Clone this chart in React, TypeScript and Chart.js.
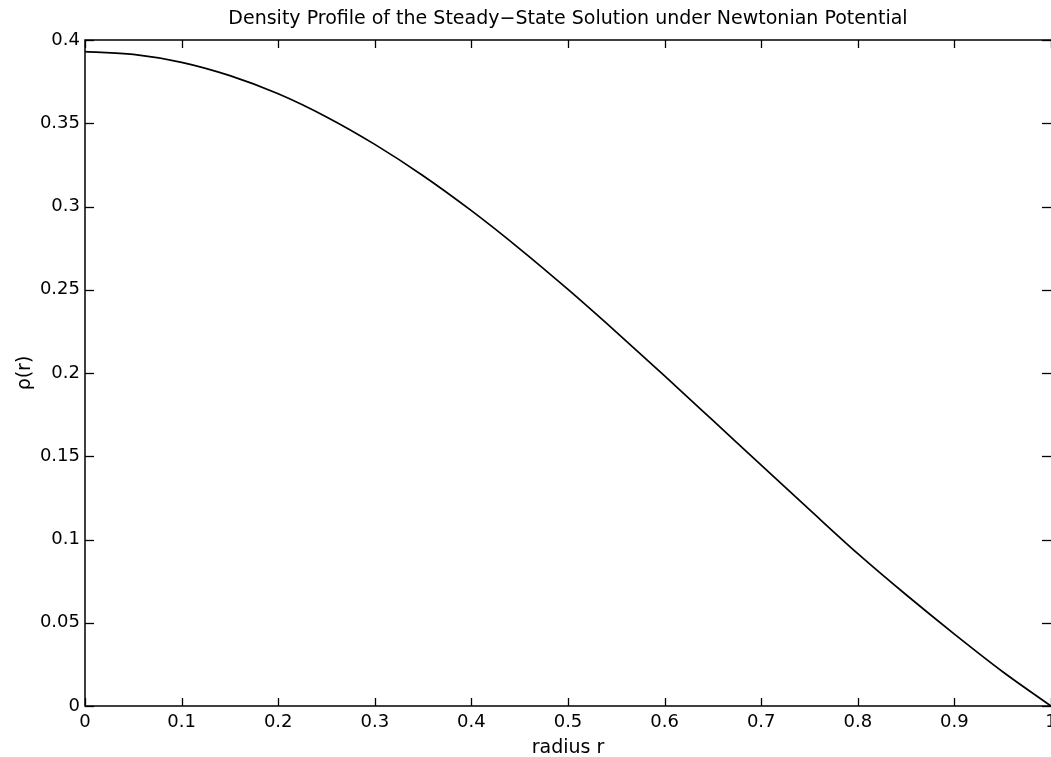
import React, { useEffect, useRef } from 'react';
import { Chart, registerables } from 'chart.js';

Chart.register(...registerables);

const chartTitle = 'Density Profile of the Steady\u2212State Solution under Newtonian Potential';
const xAxisTitle = 'radius r';
const yAxisTitle = '\u03c1(r)';

const radius = [0, 0.05, 0.1, 0.15, 0.2, 0.25, 0.3, 0.35, 0.4, 0.45, 0.5, 0.55, 0.6, 0.65, 0.7, 0.75, 0.8, 0.85, 0.9, 0.95, 1.0];
const density = [0.393, 0.3914, 0.3866, 0.3786, 0.3677, 0.3538, 0.3373, 0.3185, 0.2975, 0.2746, 0.2502, 0.2246, 0.1983, 0.1715, 0.1446, 0.1179, 0.0915, 0.0668, 0.0432, 0.0206, 0.0];

const xTickLabels = ['0', '0.1', '0.2', '0.3', '0.4', '0.5', '0.6', '0.7', '0.8', '0.9', '1'];
const yTickLabels = ['0', '0.05', '0.1', '0.15', '0.2', '0.25', '0.3', '0.35', '0.4'];

const FONT = '"DejaVu Sans", "Liberation Sans", Arial, sans-serif';

const innerTicks = {
  id: 'innerTicks',
  afterDraw(chart: any) {
    const { ctx, chartArea: a, scales } = chart;
    const L = 8;
    ctx.save();
    ctx.strokeStyle = '#000';
    ctx.lineWidth = 1.3;
    const seg = (x1: number, y1: number, x2: number, y2: number) => {
      ctx.beginPath();
      ctx.moveTo(x1, y1);
      ctx.lineTo(x2, y2);
      ctx.stroke();
    };
    scales.x.ticks.forEach((t: any) => {
      const px = Math.round(scales.x.getPixelForValue(t.value)) + 0.5;
      seg(px, a.bottom, px, a.bottom - L);
      seg(px, a.top, px, a.top + L);
    });
    scales.y.ticks.forEach((t: any) => {
      const py = Math.round(scales.y.getPixelForValue(t.value)) + 0.5;
      seg(a.left, py, a.left + L + 1, py);
      seg(a.right, py, a.right - L - 1, py);
    });
    ctx.lineWidth = 1.5;
    ctx.beginPath();
    ctx.moveTo(a.right, a.top);
    ctx.lineTo(a.left, a.top);
    ctx.lineTo(a.left, a.bottom);
    ctx.lineTo(a.right, a.bottom);
    ctx.stroke();
    ctx.restore();
  },
};

export default function App() {
  const ref = useRef<HTMLCanvasElement | null>(null);

  useEffect(() => {
    document.body.style.margin = '0';
    const canvas = ref.current;
    if (!canvas) return;
    const chart = new Chart(canvas, {
      type: 'line',
      data: {
        datasets: [
          {
            label: 'rho',
            data: radius.map((r, i) => ({ x: r, y: density[i] })),
            borderColor: '#000',
            borderWidth: 1.7,
            pointRadius: 0,
            fill: false,
            cubicInterpolationMode: 'monotone',
            xAxisID: 'x',
            yAxisID: 'y',
          },
        ],
      },
      options: {
        animation: false,
        responsive: false,
        events: [],
        layout: { padding: { left: 0, right: 0, top: 0, bottom: 0 } },
        plugins: {
          legend: { display: false },
          tooltip: { enabled: false },
          title: { display: false },
        },
        scales: {
          x: {
            type: 'linear',
            position: 'bottom',
            min: 0,
            max: 1,
            grid: { display: false, drawTicks: false },
            border: { display: false },
            ticks: {
              stepSize: 0.1,
              autoSkip: false,
              maxRotation: 0,
              padding: 6,
              color: '#000',
              font: { family: FONT, size: 18 },
              callback: (_v: any, i: number) => xTickLabels[i],
            },
            title: {
              display: true,
              text: xAxisTitle,
              color: '#000',
              font: { family: FONT, size: 19 },
              padding: { top: 0, bottom: -2 },
            },
            afterFit: (s: any) => {
              s.height = 51;
              s.paddingLeft = 0;
              s.paddingRight = 0;
            },
          },
          xTop: {
            type: 'linear',
            position: 'top',
            min: 0,
            max: 1,
            grid: { display: false, drawTicks: false },
            border: { display: false },
            ticks: { display: false },
            title: {
              display: true,
              text: chartTitle,
              color: '#000',
              font: { family: FONT, size: 19 },
              padding: { top: 8, bottom: 0 },
            },
            afterFit: (s: any) => {
              s.height = 40;
              s.paddingLeft = 0;
              s.paddingRight = 0;
            },
          },
          y: {
            type: 'linear',
            min: 0,
            max: 0.4,
            grid: { display: false, drawTicks: false },
            border: { display: false },
            ticks: {
              stepSize: 0.05,
              autoSkip: false,
              padding: 5,
              color: '#000',
              font: { family: FONT, size: 18 },
              callback: (_v: any, i: number) => yTickLabels[i],
            },
            title: {
              display: true,
              text: yAxisTitle,
              color: '#000',
              font: { family: FONT, size: 19 },
              padding: { top: 14, bottom: 0 },
            },
            afterFit: (s: any) => {
              s.width = 85;
            },
          },
        },
      },
      plugins: [innerTicks],
    } as any);
    return () => chart.destroy();
  }, []);

  return (
    <div style={{ width: 1051, height: 757, background: '#fff' }}>
      <canvas ref={ref} width={1051} height={757} style={{ display: 'block' }} />
    </div>
  );
}
